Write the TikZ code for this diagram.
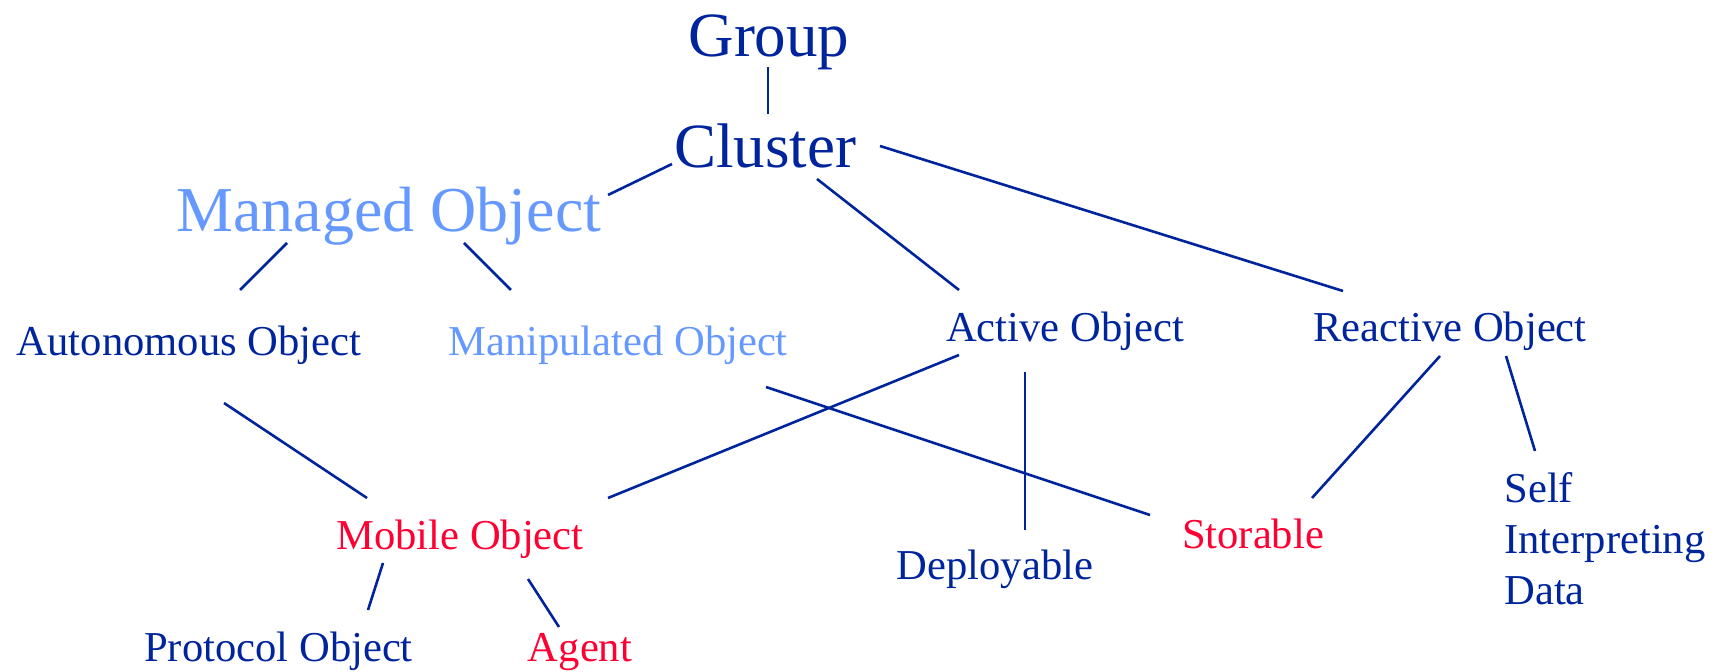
\documentclass[tikz,border=0pt]{standalone}
\usepackage{fontspec}
\setmainfont{Liberation Serif}
\definecolor{dblue}{RGB}{0,36,156}
\definecolor{lblue}{RGB}{102,153,255}
\definecolor{ored}{RGB}{255,0,51}
\tikzset{
  big/.style={inner sep=0pt, anchor=base, font=\fontsize{31.5pt}{36pt}\selectfont},
  small/.style={inner sep=0pt, anchor=base, font=\fontsize{21.3pt}{25.5pt}\selectfont},
  conn/.style={draw=dblue, line width=1.3pt}
}
\begin{document}
\begin{tikzpicture}[x=0.5pt,y=-0.5pt]
\useasboundingbox (0,0) rectangle (1724,672);
\node[big, dblue] (group) at (769,57) {Group};
\node[big, dblue] (cluster) at (765,168) {Cluster};
\node[big, lblue, font=\fontsize{32pt}{36pt}\selectfont] (managed) at (389,232) {Managed Object};
\node[small, dblue] (auto) at (189,356) {Autonomous Object};
\node[small, lblue] (manip) at (618,356) {Manipulated Object};
\node[small, dblue] (active) at (1065,342) {Active Object};
\node[small, dblue] (reactive) at (1450,342) {Reactive Object};
\node[small, ored] (mobile) at (460,550) {Mobile Object};
\node[small, dblue] (deploy) at (995,580) {Deployable};
\node[small, ored] (storable) at (1253,549) {Storable};
\node[small, dblue, anchor=north west, align=left] (self) at (1504,472) {Self\\Interpreting\\Data};
\node[small, dblue] (protocol) at (278.5,662) {Protocol Object};
\node[small, ored] (agent) at (580,662) {Agent};

\draw[conn] ([shift={(-1,10)}]group.base) -- ([shift={(3,-54)}]cluster.base);
\draw[conn] ([shift={(-93,-4)}]cluster.base) -- ([shift={(219,-37)}]managed.base);
\draw[conn] ([shift={(52,11)}]cluster.base) -- ([shift={(-106,-52)}]active.base);
\draw[conn] ([shift={(115,-22)}]cluster.base) -- ([shift={(-107,-51)}]reactive.base);
\draw[conn] ([shift={(-102,11)}]managed.base) -- ([shift={(51,-66)}]auto.base);
\draw[conn] ([shift={(75,11)}]managed.base) -- ([shift={(-107,-66)}]manip.base);
\draw[conn] ([shift={(35,47)}]auto.base) -- ([shift={(-93,-52)}]mobile.base);
\draw[conn] ([shift={(-106,13)}]active.base) -- ([shift={(148,-52)}]mobile.base);
\draw[conn] ([shift={(-40,30)}]active.base) -- ([shift={(30,-50)}]deploy.base);
\draw[conn] ([shift={(148,31)}]manip.base) -- ([shift={(-103,-34)}]storable.base);
\draw[conn] ([shift={(-10,14)}]reactive.base) -- ([shift={(59,-51)}]storable.base);
\draw[conn] ([shift={(56,14)}]reactive.base) -- ([shift={(31,-21)}]self.north west);
\draw[conn] ([shift={(-77,13)}]mobile.base) -- ([shift={(89.5,-52)}]protocol.base);
\draw[conn] ([shift={(68,29)}]mobile.base) -- ([shift={(-21,-35)}]agent.base);
\end{tikzpicture}
\end{document}
